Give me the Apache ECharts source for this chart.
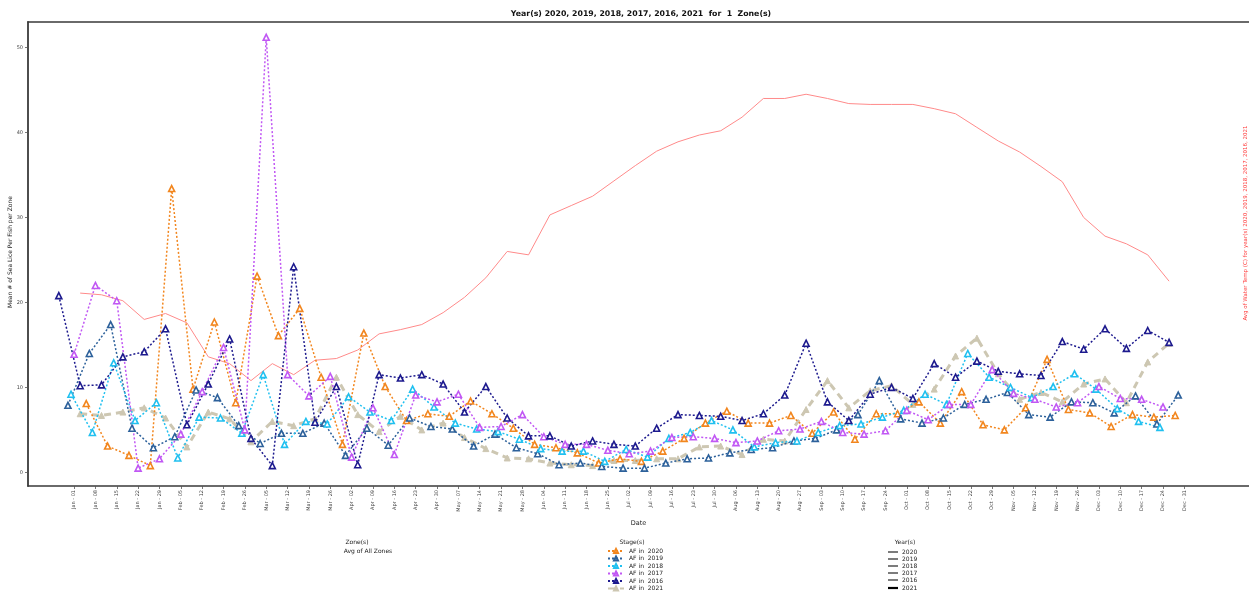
<!DOCTYPE html>
<html>
<head>
<meta charset="utf-8">
<script src="https://cdn.jsdelivr.net/npm/echarts@6/dist/echarts.min.js"></script>
<style>html,body{margin:0;padding:0;background:#fff;}#chart{width:1249px;height:596px;}</style>
</head>
<body>
<div id="chart"></div>
<script>
// ---- tick labels (weekly, day offset = index*7 from Jan-01) ----
const tickLabels = ["Jan - 01","Jan - 08","Jan - 15","Jan - 22","Jan - 29","Feb - 05","Feb - 12","Feb - 19","Feb - 26",
  "Mar - 05","Mar - 12","Mar - 19","Mar - 26","Apr - 02","Apr - 09","Apr - 16","Apr - 23","Apr - 30","May - 07","May - 14",
  "May - 21","May - 28","Jun - 04","Jun - 11","Jun - 18","Jun - 25","Jul - 02","Jul - 09","Jul - 16","Jul - 23","Jul - 30",
  "Aug - 06","Aug - 13","Aug - 20","Aug - 27","Sep - 03","Sep - 10","Sep - 17","Sep - 24","Oct - 01","Oct - 08","Oct - 15",
  "Oct - 22","Oct - 29","Nov - 05","Nov - 12","Nov - 19","Nov - 26","Dec - 03","Dec - 10","Dec - 17","Dec - 24","Dec - 31"];
const yTicks = [0, 10, 20, 30, 40, 50];

// ---- series: weekly samples, first sample day offset relative to Jan-01 ----
const years = ["2020", "2019", "2018", "2017", "2016", "2021"];
const firstDay = { "2020": 4, "2019": -2, "2018": -1, "2017": 0, "2016": -5, "2021": 2 };

const af2020 = [8.1,3.1,2.0,0.8,33.4,9.8,17.7,8.2,23.1,16.1,19.3,11.2,3.3,16.4,10.1,6.1,6.9,6.6,8.4,6.9,5.2,3.3,2.9,2.3,1.1,1.6,1.3,2.5,4.0,5.8,7.2,5.8,5.8,6.7,4.6,7.1,3.9,6.9,6.9,8.3,5.8,9.5,5.6,5.0,7.6,13.3,7.4,7.0,5.4,6.8,6.5,6.7];
const af2019 = [7.9,14.0,17.4,5.2,2.9,4.2,9.7,8.8,5.5,3.4,4.6,4.6,5.8,2.0,5.2,3.2,6.4,5.4,5.1,3.1,4.5,2.9,2.2,0.9,1.1,0.7,0.5,0.5,1.1,1.6,1.7,2.3,2.7,2.9,3.7,4.0,5.0,6.8,10.8,6.3,5.8,6.4,8.0,8.6,9.4,6.8,6.5,8.3,8.2,7.0,9.0,5.7,9.1];
const af2018 = [9.2,4.7,12.9,6.1,8.2,1.7,6.5,6.4,4.6,11.5,3.3,6.0,5.7,8.9,7.1,6.1,9.8,7.7,5.8,5.1,4.8,3.9,2.8,2.5,2.5,1.3,2.7,1.8,4.0,4.7,6.1,5.0,3.0,3.5,3.7,4.7,5.5,5.7,6.5,7.3,9.2,8.0,14.0,11.2,10.0,8.8,10.1,11.6,9.8,7.5,6.0,5.3];
const af2017 = [13.9,22.0,20.2,0.5,1.6,4.5,9.5,14.7,5.0,51.2,11.5,9.0,11.3,1.8,7.6,2.1,9.1,8.3,9.2,5.3,5.4,6.8,4.2,3.3,3.3,2.6,2.2,2.5,4.1,4.2,4.0,3.5,3.7,4.9,5.1,6.0,4.7,4.5,4.9,7.3,6.2,8.0,8.0,12.1,9.3,8.6,7.7,8.2,10.1,8.7,8.6,7.7];
const af2016 = [20.8,10.2,10.3,13.6,14.2,16.9,5.6,10.4,15.7,4.0,0.8,24.2,5.9,10.1,0.9,11.5,11.1,11.5,10.4,7.1,10.1,6.4,4.3,4.3,3.1,3.7,3.3,3.1,5.2,6.8,6.7,6.6,6.1,6.9,9.1,15.2,8.3,6.1,9.2,10.0,8.7,12.8,11.2,13.1,11.9,11.6,11.4,15.4,14.5,16.9,14.6,16.7,15.3];
const af2021 = [6.9,6.7,7.1,7.6,6.4,3.0,7.1,6.3,3.6,6.0,5.5,6.3,11.2,6.8,4.8,6.6,5.0,5.8,4.1,2.8,1.7,1.6,1.1,0.9,0.8,1.4,1.4,1.6,1.6,3.0,3.1,2.1,3.9,3.7,7.4,10.8,7.6,9.6,10.2,8.0,9.8,13.7,15.8,11.6,8.6,9.4,8.3,10.4,11.0,8.2,13.0,15.2];
// water temperature (secondary axis, no tick labels shown on the reference)
const waterTempFirstDay = 2;
const waterTemp = [21.1,20.9,20.2,18.0,18.7,17.6,13.6,12.8,10.8,12.8,11.5,13.2,13.4,14.4,16.3,16.8,17.4,18.8,20.6,22.9,26.0,25.6,30.3,31.4,32.5,34.3,36.1,37.8,38.9,39.7,40.2,41.8,44.0,44.0,44.5,44.0,43.4,43.3,43.3,43.3,42.8,42.2,40.6,39.0,37.7,36.0,34.2,30.0,27.8,26.9,25.6,22.5];

const seriesValues = { "2020": af2020, "2019": af2019, "2018": af2018, "2017": af2017, "2016": af2016, "2021": af2021 };
const colors = { "2020": "#f2861e", "2019": "#2d619b", "2018": "#20c0f0", "2017": "#c158f4", "2016": "#1d1a8e", "2021": "#cdc7b2" };

function toPairs(start, vals) { return vals.map((v, i) => [start + 7 * i, v]); }

const FONT = "DejaVu Sans";
const tickDays = tickLabels.map((_, i) => i * 7);

const series = years.map(y => {
  const isLast = y === "2021";
  return {
    name: "AF in  " + y,
    type: "line",
    data: toPairs(firstDay[y], seriesValues[y]),
    symbol: "triangle",
    symbolSize: 6,
    showAllSymbol: true,
    color: colors[y],
    lineStyle: { color: colors[y], width: isLast ? 3 : 1.5, type: isLast ? [7, 5] : [2, 2] },
    itemStyle: isLast ? { color: colors[y], borderColor: colors[y], borderWidth: 1 } : { color: "#ffffff", borderColor: colors[y], borderWidth: 1.6 },
    z: isLast ? 2 : 3,
    animation: false
  };
});
series.push({
  name: "Water Temp",
  type: "line",
  yAxisIndex: 1,
  data: toPairs(waterTempFirstDay, waterTemp),
  symbol: "none",
  lineStyle: { color: "#ff8a8a", width: 1 },
  z: 1,
  animation: false
});

const chart = echarts.init(document.getElementById("chart"), null, { renderer: "canvas" });
const lblSmall = { fontFamily: FONT, fontSize: 5, color: "#444" };
const yearLegendY = [552, 559, 566, 573, 580, 588];

chart.setOption({
  animation: false,
  title: {
    text: "Year(s) 2020, 2019, 2018, 2017, 2016, 2021  for  1  Zone(s)",
    left: 636, top: 5, textAlign: "center",
    textStyle: { fontFamily: FONT, fontSize: 7.8, fontWeight: "bold", color: "#111" }
  },
  grid: { left: 28, right: 0, top: 22, bottom: 110, containLabel: false, outerBoundsMode: "none" },
  legend: {
    data: years.map(y => "AF in  " + y),
    orient: "vertical", left: 607, top: 548,
    itemWidth: 16, itemHeight: 5, itemGap: 1.5,
    textStyle: { fontFamily: FONT, fontSize: 6, color: "#222" },
    padding: 0
  },
  xAxis: [{
    type: "value", min: -15.1, max: 385.2,
    name: "Date", nameLocation: "middle", nameGap: 27,
    nameTextStyle: { fontFamily: FONT, fontSize: 6.5, color: "#222" },
    axisLine: { show: true, onZero: false, lineStyle: { color: "#3a3a3a", width: 1.5 } },
    axisTick: { show: true, customValues: tickDays, length: 3, lineStyle: { color: "#555", width: 0.8 } },
    axisLabel: {
      customValues: tickDays, rotate: 90, margin: 4,
      formatter: v => tickLabels[Math.round(v / 7)] || "",
      ...lblSmall
    },
    splitLine: { show: false }
  }, {
    type: "value", min: -15.1, max: 385.2, position: "top",
    axisLine: { show: true, onZero: false, lineStyle: { color: "#3a3a3a", width: 1.5 } },
    axisTick: { show: false }, axisLabel: { show: false }, splitLine: { show: false }
  }],
  yAxis: [{
    type: "value", min: -1.6, max: 53,
    axisLine: { show: true, onZero: false, lineStyle: { color: "#3a3a3a", width: 1.8 } },
    axisTick: { show: true, customValues: yTicks, length: 3, lineStyle: { color: "#555", width: 0.8 } },
    axisLabel: { customValues: yTicks, margin: 5, ...lblSmall },
    splitLine: { show: false }
  }, {
    type: "value", min: -1.6, max: 53, show: false, splitLine: { show: false }
  }],
  graphic: [
    { type: "text", x: 10, y: 252, rotation: Math.PI / 2,
      style: { text: "Mean # of Sea Lice Per Fish per Zone", fill: "#222",
        font: "6px DejaVu Sans", align: "center", verticalAlign: "middle" } },
    { type: "text", x: 1246, y: 223, rotation: Math.PI / 2,
      style: { text: "Avg of Water Temp (C) for year(s) 2020, 2019, 2018, 2017, 2016, 2021", fill: "#ff4040",
        font: "5.5px DejaVu Sans", align: "center", verticalAlign: "middle" } },
    { type: "text", x: 357, y: 542, style: { text: "Zone(s)", fill: "#222", font: "6px DejaVu Sans", align: "center", verticalAlign: "middle" } },
    { type: "text", x: 368, y: 551, style: { text: "Avg of All Zones", fill: "#222", font: "6px DejaVu Sans", align: "center", verticalAlign: "middle" } },
    { type: "text", x: 632, y: 542, style: { text: "Stage(s)", fill: "#222", font: "6px DejaVu Sans", align: "center", verticalAlign: "middle" } },
    { type: "text", x: 905, y: 542, style: { text: "Year(s)", fill: "#222", font: "6px DejaVu Sans", align: "center", verticalAlign: "middle" } },
    ...years.flatMap((y, i) => [
      { type: "line", shape: { x1: 888, y1: yearLegendY[i], x2: 898, y2: yearLegendY[i] },
        style: { stroke: y === "2021" ? "#000" : "#444", lineWidth: y === "2021" ? 2.2 : 1.4 } },
      { type: "text", x: 902, y: yearLegendY[i], style: { text: y, fill: "#222", font: "6px DejaVu Sans", align: "left", verticalAlign: "middle" } }
    ])
  ],
  series: series
});
</script>
</body>
</html>
